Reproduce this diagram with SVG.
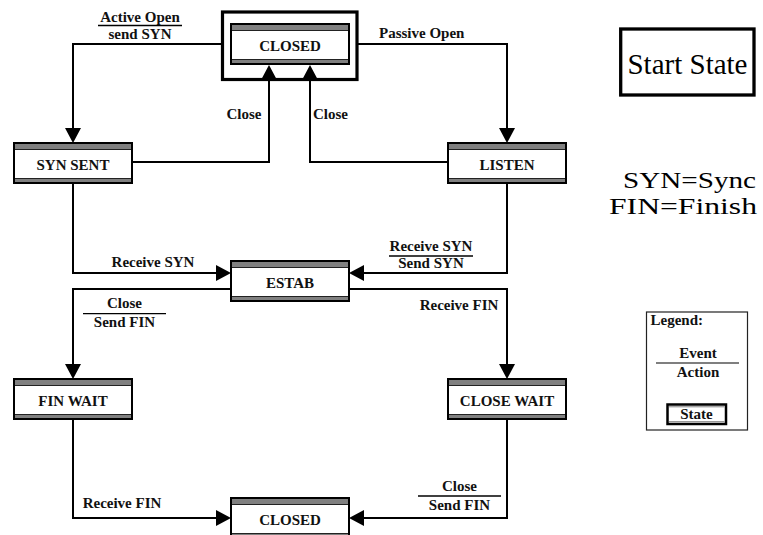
<svg xmlns="http://www.w3.org/2000/svg" width="763" height="535" viewBox="0 0 763 535">
<defs>
<style>
.box{fill:#fff;stroke:#000;stroke-width:2}
.band{fill:#808080}
.bl{stroke:#222;stroke-width:1}
.lbl{font-family:"Liberation Serif","Times New Roman",serif;font-weight:bold;font-size:15px;fill:#111;text-anchor:middle}
.ev{font-family:"Liberation Serif","Times New Roman",serif;font-weight:bold;font-size:15px;fill:#111}
.big{font-family:"Liberation Serif","Times New Roman",serif;fill:#000}
.conn{fill:none;stroke:#000;stroke-width:2;marker-end:url(#arr)}
.div{stroke:#000;stroke-width:1.3}
</style>
<marker id="arr" viewBox="0 0 15 16" refX="0" refY="8" markerWidth="15" markerHeight="16" markerUnits="userSpaceOnUse" orient="auto">
<path d="M0,0 L15,8 L0,16 Z" fill="#000"/>
</marker>
<g id="statebox">
<rect class="box" x="0" y="0" width="118" height="40"/>
<rect class="band" x="1" y="1" width="116" height="5"/>
<line class="bl" x1="1" x2="117" y1="6.5" y2="6.5"/>
<rect class="band" x="1" y="36" width="116" height="3"/>
<line class="bl" x1="1" x2="117" y1="35.5" y2="35.5"/>
</g>
</defs>
<rect width="763" height="535" fill="#fff"/>

<g id="connectors">
<path class="conn" d="M221,44 H73 V128"/>
<path class="conn" d="M132,162 H269 V80"/>
<path class="conn" d="M448,162 H310 V80"/>
<path class="conn" d="M358,44 H507 V128"/>
<path class="conn" d="M73,183 V273 H216"/>
<path class="conn" d="M507,183 V273 H364"/>
<path class="conn" d="M231,289 H73 V364"/>
<path class="conn" d="M349,289 H507 V364"/>
<path class="conn" d="M73,420 V518 H216"/>
<path class="conn" d="M507,420 V518 H364"/>
</g>

<g id="labels">
<text class="lbl" x="140" y="21.5">Active Open</text>
<line class="div" x1="98" x2="182" y1="25.5" y2="25.5"/>
<text class="lbl" x="140" y="39">send SYN</text>
<text class="ev" x="379" y="38">Passive Open</text>
<text class="lbl" x="244" y="119">Close</text>
<text class="ev" x="313" y="119">Close</text>
<text class="lbl" x="153" y="267">Receive SYN</text>
<text class="lbl" x="431" y="250.5">Receive SYN</text>
<line class="div" x1="389" x2="473" y1="256" y2="256"/>
<text class="lbl" x="431" y="268">Send SYN</text>
<text class="lbl" x="124.5" y="308">Close</text>
<line class="div" x1="83" x2="166" y1="313.7" y2="313.7"/>
<text class="lbl" x="124.5" y="326.5">Send FIN</text>
<text class="lbl" x="459" y="310">Receive FIN</text>
<text class="lbl" x="122" y="508">Receive FIN</text>
<text class="lbl" x="459.5" y="490.5">Close</text>
<line class="div" x1="418" x2="501" y1="496" y2="496"/>
<text class="lbl" x="459.5" y="509.5">Send FIN</text>
</g>

<g id="closed-start">
<rect x="222.5" y="12" width="134.5" height="67.5" fill="none" stroke="#000" stroke-width="3.2"/>
<use href="#statebox" x="231" y="24"/>
<text class="lbl" x="290" y="51">CLOSED</text>
</g>
<g id="syn-sent">
<use href="#statebox" x="14" y="143"/>
<text class="lbl" x="73" y="170">SYN SENT</text>
</g>
<g id="listen">
<use href="#statebox" x="448" y="143"/>
<text class="lbl" x="507" y="170">LISTEN</text>
</g>
<g id="estab">
<use href="#statebox" x="231" y="261"/>
<text class="lbl" x="290" y="288">ESTAB</text>
</g>
<g id="fin-wait">
<use href="#statebox" x="14" y="379"/>
<text class="lbl" x="73" y="406">FIN WAIT</text>
</g>
<g id="close-wait">
<use href="#statebox" x="448" y="379"/>
<text class="lbl" x="507" y="406">CLOSE WAIT</text>
</g>
<g id="closed-end">
<use href="#statebox" x="231" y="498"/>
<text class="lbl" x="290" y="525">CLOSED</text>
</g>

<g id="start-state">
<rect x="620.7" y="29" width="133.3" height="66" fill="none" stroke="#000" stroke-width="3.3"/>
<text class="big" x="687.5" y="73.5" font-size="29" text-anchor="middle">Start State</text>
</g>

<g id="abbrev">
<text class="big" x="623" y="188" font-size="23" textLength="133" lengthAdjust="spacingAndGlyphs">SYN=Sync</text>
<text class="big" x="609" y="214" font-size="23" textLength="148" lengthAdjust="spacingAndGlyphs">FIN=Finish</text>
</g>

<g id="legend">
<rect x="646.5" y="312" width="101" height="118" fill="#fff" stroke="#222" stroke-width="1.2"/>
<text class="ev" x="650.5" y="324.5" font-size="12.5">Legend:</text>
<text class="lbl" x="698" y="358">Event</text>
<line x1="656" x2="739" y1="363" y2="363" stroke="#555" stroke-width="1.3"/>
<text class="lbl" x="698" y="376.5">Action</text>
<rect x="667.5" y="404.5" width="58.5" height="19.5" fill="#fff" stroke="#000" stroke-width="2.5"/>
<line x1="669" x2="724.5" y1="406.8" y2="406.8" stroke="#808080" stroke-width="1"/>
<line x1="669" x2="724.5" y1="421.7" y2="421.7" stroke="#808080" stroke-width="1"/>
<text class="lbl" x="696.5" y="418.5" font-size="13">State</text>
</g>
</svg>
